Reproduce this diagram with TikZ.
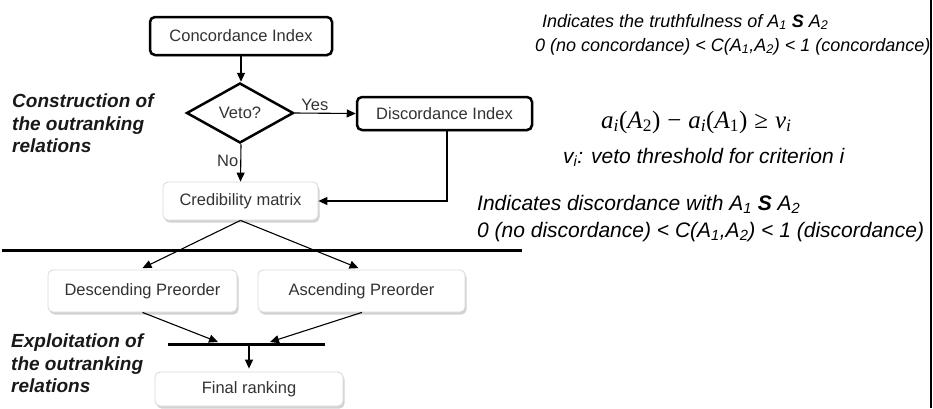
\documentclass[tikz,border=0pt]{standalone}
\usepackage{fontspec}
\setmainfont{Liberation Sans}
\newfontfamily\fmfont{Liberation Serif}
\usetikzlibrary{arrows.meta,shapes.geometric,shadows,calc}

\newcommand{\sbs}[1]{\textsubscript{#1}}

\begin{document}
\begin{tikzpicture}[x=1pt,y=-1pt,
  txtbox/.style={rounded corners=5pt, fill=white, text=black!80,
    font=\fontsize{16.5}{19}\selectfont, inner sep=0pt},
  keybox/.style={txtbox, draw=black, line width=2.5pt,
    drop shadow={shadow xshift=1pt, shadow yshift=-1.5pt, fill=black!30}},
  softbox/.style={txtbox, draw=black!15, line width=0.8pt,
    drop shadow={shadow xshift=1.5pt, shadow yshift=-2.5pt, fill=black!35}},
  link/.style={line width=1.1pt, -{Triangle[length=9pt,width=8pt]}},
  bar/.style={line width=3pt},
  side/.style={font=\fontsize{19}{22.5}\selectfont\bfseries\itshape,
    align=left, anchor=north west, inner sep=0pt, text=black!90},
  note/.style={anchor=base west, inner sep=0pt},
  small/.style={font=\fontsize{16.5}{19}\selectfont, text=black!80},
]
\useasboundingbox (0,0) rectangle (933,408);

% flowchart boxes
\node[keybox, minimum width=182pt, minimum height=38pt] (conc) at (241,36) {Concordance Index};
\node[draw, line width=2.5pt, diamond, aspect=1.78, minimum width=107pt, minimum height=60pt,
  inner sep=0pt, fill=white, small] (veto) at (240,113) {Veto?};
\node[keybox, minimum width=175pt, minimum height=33pt] (disc) at (444.5,113.5) {Discordance Index};
\node[softbox, minimum width=155pt, minimum height=38pt] (cred) at (240.5,201) {Credibility matrix};
\node[softbox, minimum width=189pt, minimum height=42pt] (desc) at (142.5,291) {Descending Preorder};
\node[softbox, minimum width=207pt, minimum height=42pt] (asc) at (361.5,291) {Ascending Preorder};
\node[softbox, minimum width=188pt, minimum height=34pt] (final) at (249,389) {Final ranking};

% phase labels
\node[side] (lab1) at (12,94) {Construction of\\the outranking\\relations};
\node[side] (lab2) at (11,334) {Exploitation of\\the outranking\\relations};

% separators
\coordinate (sl) at (2,250);
\coordinate (sr) at (522,250);
\draw[bar] (sl) -- (sr);
\coordinate (bl) at (168,344);
\coordinate (br) at (325,344);
\draw[bar] (bl) -- (br);
\coordinate (rt) at (931,0);
\coordinate (rb) at (931,408);
\draw[line width=1.5pt] (rt) -- (rb);

% connectors
\draw[link] (conc.south) -- ([xshift=1pt]veto.north);
\draw[link] (veto.east) -- node[pos=0.33, above=1pt, small, inner sep=1pt] (yes) {Yes} (disc.west);
\draw[link] ([xshift=1pt]veto.south) -- node[pos=0.45, left=1pt, small, inner sep=1pt] (no) {No} (cred.north);
\draw[link] ([xshift=2.5pt]disc.south) |- (cred.east);
\draw[link] (cred.south) -- ([yshift=1.5pt]desc.north);
\draw[link] (cred.south) -- ([xshift=-3pt,yshift=1.5pt]asc.north);
\coordinate (m1) at (218,342);
\coordinate (m2) at (270,342);
\draw[link] (desc.south) -- (m1);
\draw[link] ([xshift=0.5pt]asc.south) -- (m2);
\coordinate (bc) at (249,345);
\draw[link] (bc) -- ([yshift=3pt]final.north);

% explanatory notes
\node[note, font=\fontsize{18}{20}\selectfont\itshape] (n1) at (542,27)
  {Indicates the truthfulness of A\sbs{1} \textbf{S} A\sbs{2}};
\node[note, font=\fontsize{18}{20}\selectfont\itshape] (n2) at (535,51)
  {0 (no concordance) < C(A\sbs{1},A\sbs{2}) < 1 (concordance)};
\node[note, font=\fmfont\fontsize{25}{27}\selectfont] (vf) at (601,128)
  {\textit{a}\sbs{\textit{i}}(\textit{A}\sbs{2})\;−\;\textit{a}\sbs{\textit{i}}(\textit{A}\sbs{1})\;≥\;\textit{v}\sbs{\textit{i}}};
\node[note, font=\fontsize{21}{24}\selectfont\itshape] (n3) at (563,163)
  {v\sbs{i}: veto threshold for criterion i};
\node[note, font=\fontsize{21}{24}\selectfont\itshape] (n4) at (477,210)
  {Indicates discordance with A\sbs{1} \textbf{S} A\sbs{2}};
\node[note, font=\fontsize{21}{24}\selectfont\itshape] (n5) at (477,237)
  {0 (no discordance) < C(A\sbs{1},A\sbs{2}) < 1 (discordance)};
\end{tikzpicture}
\end{document}
